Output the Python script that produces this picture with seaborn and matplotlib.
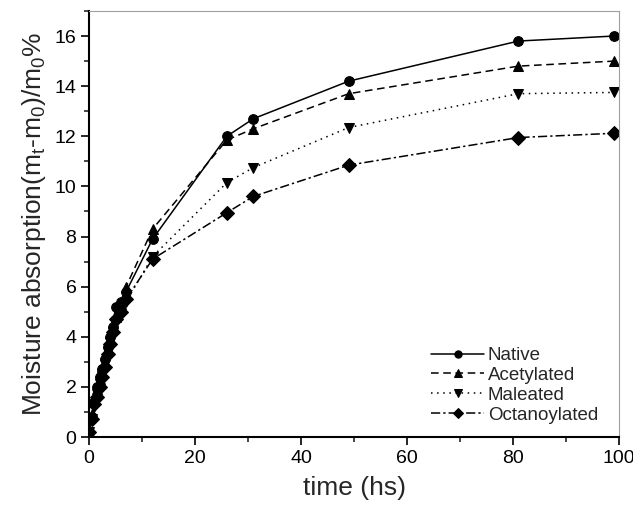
#!/usr/bin/env python3

import pandas as pd
import seaborn as sns
from matplotlib import pyplot as plt
from matplotlib.ticker import MultipleLocator

# Data
time_hs = [0, 0.5, 1, 1.5, 2, 2.5, 3, 3.5, 4, 4.5, 5, 6, 7, 12, 26, 31, 49, 81, 99]
native = [0.2, 0.8, 1.4, 2.0, 2.4, 2.7, 3.1, 3.6, 4.0, 4.4, 5.2, 5.4, 5.8, 7.9, 12.0, 12.7, 14.2, 15.8, 16.0]
acetylated = [0.2, 0.9, 1.5, 1.9, 2.3, 2.8, 3.0, 3.5, 3.9, 4.4, 4.8, 5.3, 6.0, 8.3, 11.85, 12.3, 13.7, 14.8, 15.0]
maleated = [0.2, 0.7, 1.2, 1.7, 2.1, 2.5, 2.9, 3.4, 3.8, 4.2, 4.6, 5.2, 5.4, 7.2, 10.15, 10.75, 12.35, 13.7, 13.75]
octanoylated = [0.2, 0.7, 1.3, 1.6, 2.0, 2.4, 2.8, 3.3, 3.7, 4.2, 4.7, 5.0, 5.5, 7.1, 8.95, 9.6, 10.85, 11.95, 12.12]

samples = ["Native", "Acetylated", "Maleated", "Octanoylated"]
series = [native, acetylated, maleated, octanoylated]


def main():

    sns.set_style("ticks")
    plt.rcParams["font.family"] = ["Liberation Sans", "DejaVu Sans"]
    plt.rcParams["mathtext.default"] = "regular"

    # Long format for seaborn
    frames = []
    for name, values in zip(samples, series):
        frames.append(pd.DataFrame({"time": time_hs, "value": values, "sample": name}))
    df = pd.concat(frames, ignore_index=True)

    markers = {"Native": "o", "Acetylated": "^", "Maleated": "v", "Octanoylated": "D"}
    dashes = {"Native": "", "Acetylated": (5, 3), "Maleated": (1, 3), "Octanoylated": (6, 2, 1.5, 2)}

    fig = plt.figure(figsize=(6.33, 5.11), dpi=100)
    ax = fig.add_axes([0.1406, 0.1448, 0.8374, 0.8337])

    sns.lineplot(
        data=df,
        x="time",
        y="value",
        style="sample",
        style_order=samples,
        markers=markers,
        dashes=dashes,
        color="black",
        markersize=7,
        markeredgecolor="black",
        linewidth=1.1,
        ax=ax,
    )

    ax.set_xlim(0, 100)
    ax.set_ylim(0, 17)
    ax.xaxis.set_major_locator(MultipleLocator(20))
    ax.xaxis.set_minor_locator(MultipleLocator(10))
    ax.yaxis.set_major_locator(MultipleLocator(2))
    ax.yaxis.set_minor_locator(MultipleLocator(1))
    ax.tick_params(which="major", direction="out", length=6, width=1.2, labelsize=14, colors="black", pad=3)
    ax.tick_params(which="minor", direction="out", length=3.5, width=1.2)

    for side in ["left", "bottom"]:
        ax.spines[side].set_color("black")
        ax.spines[side].set_linewidth(1.5)
    for side in ["top", "right"]:
        ax.spines[side].set_visible(True)
        ax.spines[side].set_color("#a0a0a0")
        ax.spines[side].set_linewidth(0.8)

    ax.set_xlabel("time (hs)", fontsize=19, labelpad=7)
    ax.set_ylabel(r"Moisture absorption(m$_t$-m$_0$)/m$_0$%", fontsize=19, labelpad=5)

    ax.legend(
        loc="lower right",
        bbox_to_anchor=(0.985, 0.0),
        frameon=False,
        fontsize=13.5,
        handlelength=2.8,
        handletextpad=0.2,
        labelspacing=0.15,
        borderaxespad=0.3,
        markerscale=0.75,
    )

    fig.savefig("out.png", dpi=100)
    plt.close()


if __name__ == "__main__":
    main()
